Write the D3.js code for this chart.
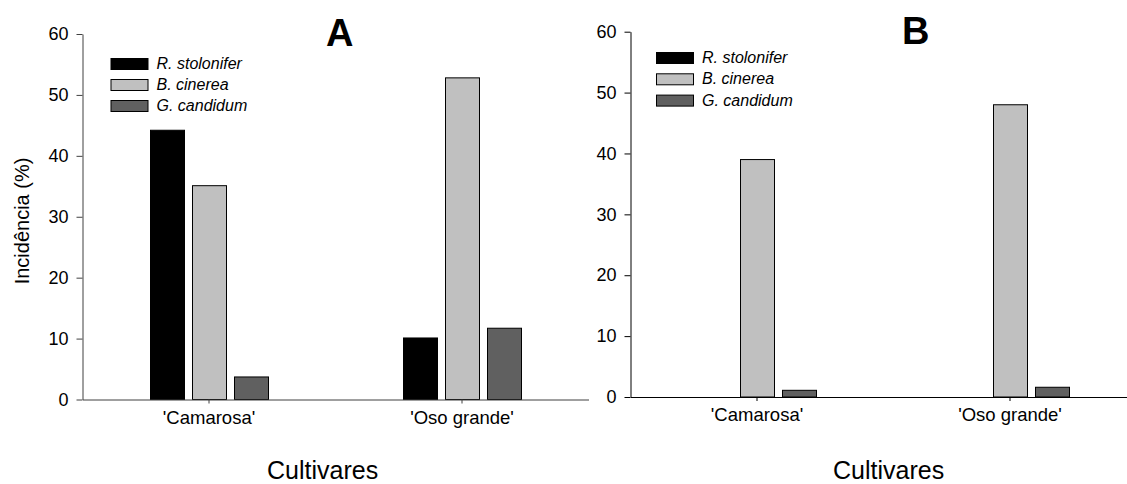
<!DOCTYPE html>
<html>
<head>
<meta charset="utf-8">
<script src="https://cdn.jsdelivr.net/npm/d3@7/dist/d3.min.js"></script>
<style>
  html, body { margin: 0; padding: 0; background: #fff; }
  svg { display: block; font-family: "Liberation Sans", Arial, Helvetica, sans-serif; }
</style>
</head>
<body>
<svg id="chart" width="1127" height="484"></svg>
<script>
// Cultivars on the x axis and the three pathogens shown as grouped bars
const cultivars = ["'Camarosa'", "'Oso grande'"];
const species = ["R. stolonifer", "B. cinerea", "G. candidum"];
const speciesFill = ["#000000", "#c0c0c0", "#606060"];

// Panel A: incidence (%) per cultivar
const incidenceA_Rstolonifer = [44.2, 10.1];
const incidenceA_Bcinerea    = [35.1, 52.8];
const incidenceA_Gcandidum   = [3.7, 11.7];

// Panel B: incidence (%) per cultivar
const incidenceB_Rstolonifer = [0, 0];
const incidenceB_Bcinerea    = [39.0, 48.0];
const incidenceB_Gcandidum   = [1.1, 1.6];

const yTicks = [0, 10, 20, 30, 40, 50, 60];

const svg = d3.select("#chart");

function panel(cfg) {
  const g = svg.append("g");
  const x = d3.scaleBand().domain(cultivars).range(cfg.xRange);
  const y = d3.scaleLinear().domain([0, 60]).range(cfg.yRange);
  // bars inside each group: 34px wide with 8px gaps
  const inner = d3.scaleBand().domain(species).range([-63, 63])
    .paddingInner(8 / 42).paddingOuter(4 / 42);

  const rows = [];
  cultivars.forEach((c, i) => {
    species.forEach((s, j) => {
      rows.push({ cultivar: c, species: s, value: cfg.series[j][i], fill: speciesFill[j] });
    });
  });

  g.selectAll("rect.bar")
    .data(rows.filter(d => d.value > 0))
    .join("rect")
    .attr("class", "bar")
    .attr("x", d => Math.round(x(d.cultivar) + x.bandwidth() / 2 + inner(d.species)) + 0.5)
    .attr("width", inner.bandwidth())
    .attr("y", d => y(d.value))
    .attr("height", d => y(0) - y(d.value))
    .attr("fill", d => d.fill)
    .attr("stroke", "#000")
    .attr("stroke-width", 1);

  // y axis
  const ya = g.append("g")
    .attr("transform", `translate(${cfg.xRange[0]},0)`)
    .call(d3.axisLeft(y).tickValues(yTicks).tickSize(6).tickSizeOuter(0).tickPadding(8));
  ya.selectAll("text").attr("font-size", 18).attr("fill", "#000").attr("font-family", null);
  ya.selectAll("line").attr("stroke", cfg.axisColor);
  ya.select(".domain").attr("stroke", cfg.axisColor);

  // x axis
  const xa = g.append("g")
    .attr("transform", `translate(0,${cfg.yRange[0]})`)
    .call(d3.axisBottom(x).tickSize(4).tickSizeOuter(0).tickPadding(7));
  xa.selectAll("text").attr("font-size", 18.5).attr("fill", "#000").attr("font-family", null);
  xa.selectAll("line").attr("stroke", cfg.axisColor);
  xa.select(".domain").attr("stroke", cfg.axisColor);

  // legend
  const lg = g.append("g");
  species.forEach((s, j) => {
    const yy = cfg.legend.y + j * cfg.legend.step;
    lg.append("rect")
      .attr("x", cfg.legend.x + 0.5).attr("y", yy + 0.5)
      .attr("width", 37).attr("height", 11)
      .attr("fill", speciesFill[j]).attr("stroke", "#000");
    lg.append("text")
      .attr("x", cfg.legend.x + 46).attr("y", yy + 11)
      .attr("font-size", 16).attr("font-style", "italic")
      .text(s);
  });

  // panel letter
  g.append("text")
    .attr("x", cfg.title.x).attr("y", cfg.title.y)
    .attr("font-size", 38).attr("font-weight", "bold")
    .text(cfg.title.text);

  // x axis title
  g.append("text")
    .attr("x", cfg.xTitle.x).attr("y", cfg.xTitle.y)
    .attr("font-size", 25)
    .text("Cultivares");

  return g;
}

panel({
  xRange: [82.5, 588.5],
  yRange: [399.5, 34],
  axisColor: "#404040",
  series: [incidenceA_Rstolonifer, incidenceA_Bcinerea, incidenceA_Gcandidum],
  legend: { x: 110.5, y: 58, step: 21 },
  title: { text: "A", x: 326, y: 46 },
  xTitle: { x: 267, y: 479 }
});

panel({
  xRange: [630.5, 1136.5],
  yRange: [397, 31.7],
  axisColor: "#000",
  series: [incidenceB_Rstolonifer, incidenceB_Bcinerea, incidenceB_Gcandidum],
  legend: { x: 656, y: 52, step: 21.3 },
  title: { text: "B", x: 902, y: 44 },
  xTitle: { x: 833, y: 479 }
});

// y axis title (panel A)
svg.append("text")
  .attr("transform", "translate(29,221) rotate(-90)")
  .attr("text-anchor", "middle")
  .attr("font-size", 20)
  .text("Incidência (%)");
</script>
</body>
</html>
